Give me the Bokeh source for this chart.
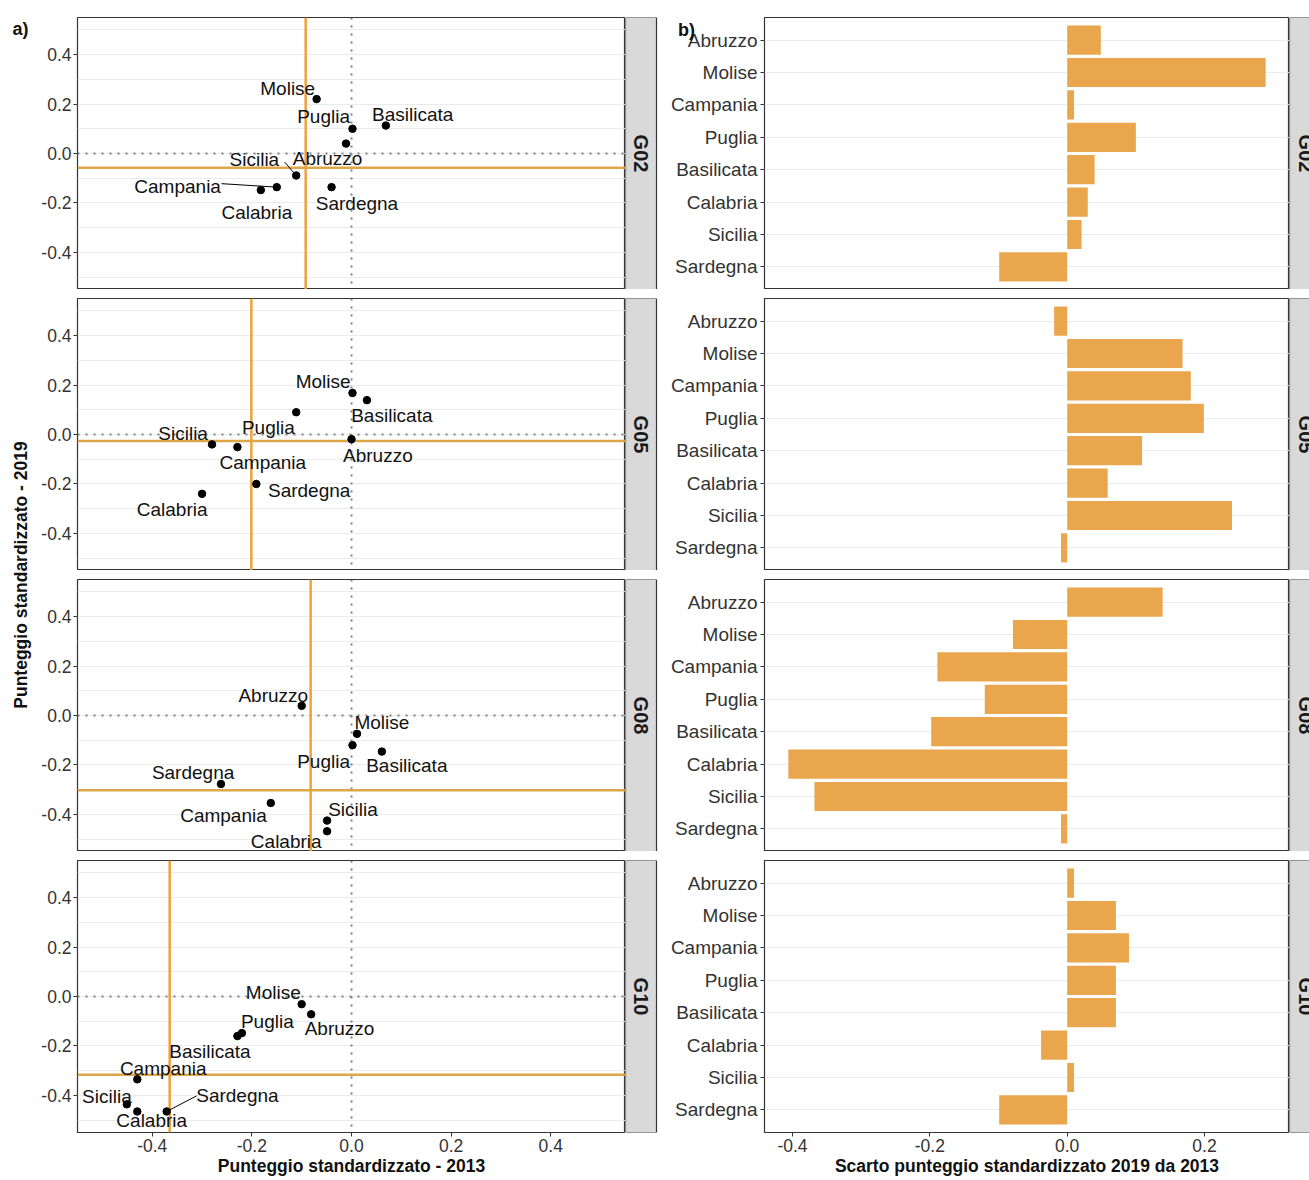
import math
from bokeh.plotting import figure
from bokeh.models import (Range1d, FactorRange, FixedTicker, PrintfTickFormatter,
                          Span, ColumnDataSource)
from bokeh.layouts import row, column
from bokeh.embed import file_html
from bokeh.resources import INLINE
from bokeh.core.properties import value

# ---------------- DATA ----------------
REGIONS = ["Abruzzo", "Molise", "Campania", "Puglia", "Basilicata", "Calabria", "Sicilia", "Sardegna"]
TESTS = ["G02", "G05", "G08", "G10"]

# standardised score 2013 (x) and 2019 (y), order as REGIONS
G02_2013 = [-0.011, -0.070, -0.150, 0.002, 0.069, -0.182, -0.111, -0.040]
G02_2019 = [0.040, 0.220, -0.136, 0.100, 0.113, -0.148, -0.089, -0.136]
G05_2013 = [0.000, 0.002, -0.229, -0.111, 0.031, -0.300, -0.280, -0.191]
G05_2019 = [-0.019, 0.168, -0.051, 0.090, 0.139, -0.240, -0.040, -0.200]
G08_2013 = [-0.100, 0.011, -0.162, 0.002, 0.061, -0.049, -0.049, -0.262]
G08_2019 = [0.039, -0.074, -0.354, -0.120, -0.146, -0.468, -0.425, -0.277]
G10_2013 = [-0.081, -0.100, -0.430, -0.220, -0.229, -0.430, -0.451, -0.371]
G10_2019 = [-0.072, -0.031, -0.335, -0.148, -0.160, -0.465, -0.436, -0.465]

# difference 2019 - 2013 (right panels)
G02_DIFF = [0.049, 0.289, 0.010, 0.100, 0.040, 0.030, 0.021, -0.099]
G05_DIFF = [-0.019, 0.168, 0.180, 0.199, 0.109, 0.059, 0.240, -0.009]
G08_DIFF = [0.139, -0.079, -0.189, -0.120, -0.198, -0.406, -0.368, -0.009]
G10_DIFF = [0.010, 0.071, 0.090, 0.071, 0.071, -0.038, 0.010, -0.099]

# reference (orange) lines per test
REF_2013 = [-0.092, -0.201, -0.082, -0.365]
REF_2019 = [-0.058, -0.026, -0.302, -0.316]

X_TICKS_LEFT = [-0.4, -0.2, 0.0, 0.2, 0.4]
X_TICKS_RIGHT = [-0.4, -0.2, 0.0, 0.2]

# ---------------- LAYOUT (label placement, data units) ----------------
LABEL_X = {
    "G02": [-0.048, -0.128, -0.349, -0.056, 0.123, -0.190, -0.195, 0.011],
    "G05": [0.053, -0.057, -0.178, -0.167, 0.081, -0.360, -0.338, -0.085],
    "G08": [-0.157, 0.061, -0.257, -0.056, 0.111, -0.131, 0.003, -0.318],
    "G10": [-0.024, -0.157, -0.378, -0.169, -0.284, -0.401, -0.491, -0.229],
}
LABEL_Y = {
    "G02": [-0.021, 0.263, -0.133, 0.148, 0.157, -0.239, -0.024, -0.201],
    "G05": [-0.085, 0.214, -0.112, 0.027, 0.077, -0.302, 0.004, -0.226],
    "G08": [0.080, -0.027, -0.404, -0.188, -0.204, -0.511, -0.379, -0.231],
    "G10": [-0.130, 0.016, -0.291, -0.101, -0.221, -0.500, -0.404, -0.402],
}
# leader segments: (test, region, start x, start y)
LEADERS = [("G02", "Campania", -0.261, -0.122),
           ("G02", "Sicilia", -0.134, -0.035),
           ("G10", "Sardegna", -0.311, -0.402)]

SCAT = {"G02": (G02_2013, G02_2019), "G05": (G05_2013, G05_2019),
        "G08": (G08_2013, G08_2019), "G10": (G10_2013, G10_2019)}
DIFF = {"G02": G02_DIFF, "G05": G05_DIFF, "G08": G08_DIFF, "G10": G10_DIFF}

FONT = "Liberation Sans"
FH = 272                      # frame height of each facet
TOPS = [17, 9, 9, 9]
BOTS = [0, 0, 0, 48]
TOTAL_H = sum(TOPS) + sum(BOTS) + 4 * FH
GRID_C = "#EBEBEB"
BORDER_C = "#333333"
TICK_C = "#333333"
ORANGE_V = "#EFA23A"
ORANGE_H = "#DDA646"
BAR_C = "#EAA64D"
STRIP_C = "#D9D9D9"
TICK_SIZE = "17.5px"
TITLE_SIZE = "17.5px"


def style_axis(ax, size=TICK_SIZE):
    ax.axis_line_color = None
    ax.major_tick_line_color = BORDER_C
    ax.major_tick_out = 4
    ax.major_tick_in = 0
    ax.minor_tick_line_color = None
    ax.major_label_text_font = FONT
    ax.major_label_text_font_size = size
    ax.major_label_text_color = TICK_C
    ax.major_label_standoff = 2


def style_title(ax, text):
    ax.axis_label = text
    ax.axis_label_text_font = FONT
    ax.axis_label_text_font_style = "bold"
    ax.axis_label_text_font_size = TITLE_SIZE
    ax.axis_label_text_color = "#111111"
    ax.axis_label_standoff = 1


def base_fig(width, height, top, bottom, left, xr, yr, show_x):
    p = figure(width=width, height=height, x_range=xr, y_range=yr,
               toolbar_location=None, output_backend="svg",
               min_border_left=left, min_border_right=0,
               min_border_top=top, min_border_bottom=bottom,
               x_axis_location="below" if show_x else None)
    p.outline_line_color = BORDER_C
    p.outline_line_width = 1.2
    p.background_fill_color = "white"
    p.border_fill_color = "white"
    return p


def strip_fig(test, width, height, top, bottom, fill_to, text_x):
    s = figure(width=width, height=height, x_range=Range1d(0, width), y_range=Range1d(0, FH),
               toolbar_location=None, output_backend="svg",
               min_border_left=0, min_border_right=0,
               min_border_top=top, min_border_bottom=bottom,
               x_axis_location=None, y_axis_location=None)
    s.outline_line_color = None
    s.grid.visible = False
    s.border_fill_color = "white"
    s.quad(left=[0], right=[fill_to], bottom=[0], top=[FH], fill_color=STRIP_C,
           line_color=BORDER_C, line_width=1.2)
    s.text(x=[text_x], y=[FH / 2], text=[test], angle=-math.pi / 2,
           text_align="center", text_baseline="middle",
           text_font=value(FONT), text_font_style="bold",
           text_font_size="20px", text_color="#1A1A1A")
    return s


lo_r = min(min(v) for v in DIFF.values())
hi_r = max(max(v) for v in DIFF.values())
pad_r = 0.05 * (hi_r - lo_r)

left_rows, right_rows = [], []
for i, t in enumerate(TESTS):
    top, bot = TOPS[i], BOTS[i]
    h = top + FH + bot
    last = (i == len(TESTS) - 1)
    xs, ys = SCAT[t]

    # ---- left scatter panel ----
    p = base_fig(587, h, top, bot, 38, Range1d(-0.55, 0.55), Range1d(-0.55, 0.55), last)
    p.xgrid.visible = False
    p.ygrid.ticker = FixedTicker(ticks=X_TICKS_LEFT, minor_ticks=[-0.5, -0.3, -0.1, 0.1, 0.3, 0.5])
    p.ygrid.grid_line_color = GRID_C
    p.ygrid.grid_line_width = 1.2
    p.ygrid.minor_grid_line_color = GRID_C
    p.ygrid.minor_grid_line_width = 1
    p.yaxis.ticker = FixedTicker(ticks=X_TICKS_LEFT)
    p.yaxis.formatter = PrintfTickFormatter(format="%.1f")
    style_axis(p.yaxis[0])
    if last:
        p.xaxis.ticker = FixedTicker(ticks=X_TICKS_LEFT)
        p.xaxis.formatter = PrintfTickFormatter(format="%.1f")
        style_axis(p.xaxis[0])
        style_title(p.xaxis[0], "Punteggio standardizzato - 2013")

    for loc, dim in ((0, "height"), (0, "width")):
        p.add_layout(Span(location=loc, dimension=dim, line_color="#808080",
                          line_width=2, line_dash="2 6", level="underlay"))
    p.add_layout(Span(location=REF_2013[i], dimension="height", line_color=ORANGE_V,
                      line_width=2.5, level="underlay"))
    p.add_layout(Span(location=REF_2019[i], dimension="width", line_color=ORANGE_H,
                      line_width=2.5, level="underlay"))

    src = ColumnDataSource(dict(x=xs, y=ys, lx=LABEL_X[t], ly=LABEL_Y[t], name=REGIONS))
    for (lt, reg, sx, sy) in LEADERS:
        if lt == t:
            k = REGIONS.index(reg)
            p.segment(x0=[sx], y0=[sy], x1=[xs[k]], y1=[ys[k]], line_color="black", line_width=1)
    p.scatter("x", "y", source=src, size=7.5, color="black")
    p.text("lx", "ly", text="name", source=src, text_align="center", text_baseline="middle",
           text_font=value(FONT), text_font_size="19px", text_color="#111111")

    sl = strip_fig(t, 33, h, top, bot, 31, 15.5)
    left_rows.append(row(p, sl))

    # ---- right bar panel ----
    q = base_fig(631, h, top, bot, 106, Range1d(lo_r - pad_r, hi_r + pad_r),
                 FactorRange(factors=list(reversed(REGIONS)), range_padding=0.2,
                             range_padding_units="absolute"), last)
    q.xgrid.visible = False
    q.ygrid.grid_line_color = GRID_C
    q.ygrid.grid_line_width = 1.2
    style_axis(q.yaxis[0], "19px")
    q.yaxis.major_label_standoff = 3
    q.hbar(y=REGIONS, left=0, right=DIFF[t], height=0.9, fill_color=BAR_C, line_color=None)
    if last:
        q.xaxis.ticker = FixedTicker(ticks=X_TICKS_RIGHT)
        q.xaxis.formatter = PrintfTickFormatter(format="%.1f")
        style_axis(q.xaxis[0])
        style_title(q.xaxis[0], "Scarto punteggio standardizzato 2019 da 2013")
    if i == 0:
        ya = q.yaxis[0]
        ya.axis_label = "\nb)"
        ya.axis_label_text_font = FONT
        ya.axis_label_text_font_style = "bold"
        ya.axis_label_text_font_size = "18px"
        ya.axis_label_text_color = "#111111"
        ya.axis_label_standoff = -27
        try:
            ya.axis_label_orientation = "horizontal"
            ya.axis_label_align = "end"
        except Exception:
            pass
    sr = strip_fig(t, 20, h, top, bot, 33, 16.5)
    right_rows.append(row(q, sr))

# ---- y title column ----
yt = figure(width=38, height=TOTAL_H, x_range=Range1d(0, 38), y_range=Range1d(0, TOTAL_H),
            toolbar_location=None, output_backend="svg", min_border=0,
            x_axis_location=None, y_axis_location=None)
yt.outline_line_color = None
yt.grid.visible = False
yt.text(x=[20], y=[TOTAL_H - 574.5], text=["Punteggio standardizzato - 2019"], angle=math.pi / 2,
        text_align="center", text_baseline="middle", text_font=value(FONT),
        text_font_style="bold", text_font_size=TITLE_SIZE, text_color="#111111")
yt.text(x=[12], y=[TOTAL_H - 28], text=["a)"], text_align="left", text_baseline="middle",
        text_font=value(FONT), text_font_style="bold", text_font_size="18px", text_color="#111111")

layout = row(yt, column(*left_rows), column(*right_rows))
open("out.html", "w").write(file_html(layout, INLINE))
